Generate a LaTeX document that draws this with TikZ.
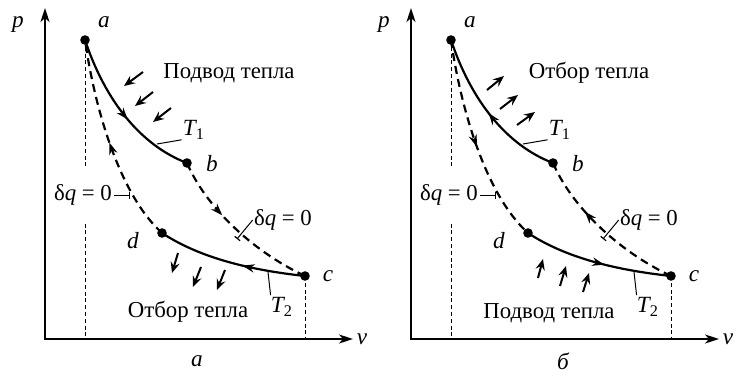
\documentclass[tikz,border=0pt]{standalone}
\usepackage{fontspec}
\setmainfont{Liberation Serif}
\usetikzlibrary{arrows.meta,decorations.markings}
\tikzset{
  dot/.style={circle,fill,inner sep=0pt,minimum size=4.8pt},
  axes/.style={line width=0.9pt,{Stealth[length=7pt,width=4.5pt,inset=2pt]}-{Stealth[length=7pt,width=4.5pt,inset=2pt]}},
  iso/.style={line width=1.1pt},
  adiab/.style={line width=1.1pt,dash pattern=on 4pt off 2.6pt},
  guide/.style={line width=0.5pt,dash pattern=on 2pt off 1.4pt},
  txt/.style={font=\fontsize{11.4}{13}\selectfont,inner sep=0.5pt},
  itxt/.style={font=\fontsize{11.6}{13}\selectfont\itshape,inner sep=0.5pt},
  heat/.style={line width=1pt,-{Stealth[length=5.5pt,width=4.6pt,inset=2pt]}},
  midarrow/.style={postaction={decorate},decoration={markings,
      mark=at position #1 with {\arrow{Stealth[length=6pt,width=4.2pt,inset=2pt]}}}},
  leader/.style={line width=0.5pt,-{Bar[width=3.5pt,line width=0.6pt]}},
  plain/.style={line width=0.5pt},
}
\begin{document}
\begin{tikzpicture}[x=0.5pt,y=-0.5pt]
\useasboundingbox (0,0) rectangle (740,376);

% ---------------- left panel ----------------
\begin{scope}[name prefix=L-]
  \coordinate (o) at (45,339);
  \coordinate (ytop) at (45,8);
  \coordinate (xend) at (353,339);
  \draw[axes] (ytop) |- (xend);
  \node[dot] (a) at (85,40) {};
  \node[dot] (b) at (187,163) {};
  \node[dot] (c) at (305,276) {};
  \node[dot] (d) at (162,233) {};
  \draw[guide] (a.center) -- (a |- o);
  \draw[guide] (c.center) -- (c |- o);
  \draw[iso,midarrow=0.55] (a.center) .. controls (105,100) and (140,145) .. (b.center);
  \draw[adiab,midarrow=0.38] (b.center) .. controls (205,205) and (250,250) .. (c.center);
  \draw[iso,midarrow=0.42] (c.center) .. controls (250,270) and (200,258) .. (d.center);
  \draw[adiab,midarrow=0.5] (d.center) .. controls (120,195) and (95,110) .. (a.center);
  % heat arrows
  \draw[heat] (143,72) -- (124,86);
  \draw[heat] (153,92) -- (135,106);
  \draw[heat] (171,108) -- (153,122);
  \draw[heat] (178,253) -- (172,273);
  \draw[heat] (201,267) -- (193,287);
  \draw[heat] (225,270) -- (217,290);
  % labels
  \node[itxt] (pl) at (18,24) {p};
  \node[itxt] (vl) at (362,339) {v};
  \node[itxt] (al) at (104,22) {a};
  \node[itxt] (bl) at (212,164) {b};
  \node[itxt] (cl) at (328,276) {c};
  \node[itxt] (dl) at (133,241) {d};
  \node[txt] (top) at (229,73) {Подвод тепла};
  \node[txt] (bot) at (188,312) {Отбор тепла};
  \node[itxt] (t1) at (194,130) {T\textsubscript{\upshape 1}};
  \node[itxt] (t2) at (282,307) {T\textsubscript{\upshape 2}};
  \coordinate (t1a) at (157,144);
  \coordinate (t2a) at (268,272);
  \draw[plain] (t1.south west) ++(0,-1) -- (t1a);
  \draw[plain] (t2.north west) ++(1,-1) -- (t2a);
  \node[txt,fill=white,inner ysep=8pt,inner xsep=1pt] (q1) at (83,195) {δ\textit{q} = 0};
  \coordinate (q1a) at (130,195);
  \draw[leader] (q1.east) -- (q1a);
  \node[txt] (q2) at (283,220) {δ\textit{q} = 0};
  \coordinate (q2a) at (237,239);
  \draw[leader] (q2.west) -- (q2a);
  \node[itxt] (cap) at (197,361) {a};
\end{scope}

% ---------------- right panel ----------------
\begin{scope}[name prefix=R-,shift={(366,0)}]
  \coordinate (o) at (45,339);
  \coordinate (ytop) at (45,8);
  \coordinate (xend) at (353,339);
  \draw[axes] (ytop) |- (xend);
  \node[dot] (a) at (85,40) {};
  \node[dot] (b) at (187,163) {};
  \node[dot] (c) at (305,276) {};
  \node[dot] (d) at (162,233) {};
  \draw[guide] (a.center) -- (a |- o);
  \draw[guide] (c.center) -- (c |- o);
  \draw[iso,midarrow=0.5] (b.center) .. controls (140,145) and (105,100) .. (a.center);
  \draw[adiab,midarrow=0.65] (c.center) .. controls (250,250) and (205,205) .. (b.center);
  \draw[iso,midarrow=0.55] (d.center) .. controls (200,258) and (250,270) .. (c.center);
  \draw[adiab,midarrow=0.52] (a.center) .. controls (95,110) and (120,195) .. (d.center);
  % heat arrows
  \draw[heat] (121,90) -- (138,76);
  \draw[heat] (134,109) -- (152,95);
  \draw[heat] (151,125) -- (169,112);
  \draw[heat] (172,278) -- (177,259);
  \draw[heat] (194,286) -- (200,266);
  \draw[heat] (217,292) -- (223,273);
  % labels
  \node[itxt] (pl) at (18,24) {p};
  \node[itxt] (vl) at (362,339) {v};
  \node[itxt] (al) at (104,22) {a};
  \node[itxt] (bl) at (212,164) {b};
  \node[itxt] (cl) at (328,276) {c};
  \node[itxt] (dl) at (133,241) {d};
  \node[txt] (top) at (223,73) {Отбор тепла};
  \node[txt] (bot) at (183,313) {Подвод тепла};
  \node[itxt] (t1) at (194,130) {T\textsubscript{\upshape 1}};
  \node[itxt] (t2) at (282,307) {T\textsubscript{\upshape 2}};
  \coordinate (t1a) at (157,144);
  \coordinate (t2a) at (268,272);
  \draw[plain] (t1.south west) ++(0,-1) -- (t1a);
  \draw[plain] (t2.north west) ++(1,-1) -- (t2a);
  \node[txt,fill=white,inner ysep=8pt,inner xsep=1pt] (q1) at (83,195) {δ\textit{q} = 0};
  \coordinate (q1a) at (130,195);
  \draw[leader] (q1.east) -- (q1a);
  \node[txt] (q2) at (283,220) {δ\textit{q} = 0};
  \coordinate (q2a) at (237,239);
  \draw[leader] (q2.west) -- (q2a);
  \node[itxt] (cap) at (197,361) {б};
\end{scope}
\end{tikzpicture}
\end{document}
